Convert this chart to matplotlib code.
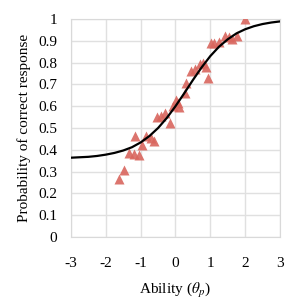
import numpy as np
import matplotlib
matplotlib.use("Agg")
import matplotlib.pyplot as plt

plt.rcParams['font.family'] = ['Liberation Serif', 'DejaVu Serif']
plt.rcParams['mathtext.fontset'] = 'stix'
plt.rcParams['axes.unicode_minus'] = False

# item characteristic curve
theta_curve = [-3, -2.75, -2.5, -2.25, -2, -1.75, -1.5, -1.25, -1, -0.75, -0.5, -0.25,
               0, 0.25, 0.5, 0.75, 1, 1.25, 1.5, 1.75, 2, 2.25, 2.5, 2.75, 3]
p_curve = [0.364, 0.366, 0.368, 0.372, 0.378, 0.386, 0.397, 0.412, 0.434, 0.463, 0.500, 0.546,
           0.600, 0.659, 0.720, 0.778, 0.830, 0.873, 0.907, 0.934, 0.953, 0.967, 0.977, 0.984, 0.989]

# observed proportions
theta_obs = [-1.63, -1.49, -1.32, -1.18, -1.05, -1.15, -0.96, -0.86, -0.70, -0.62, -0.54, -0.41,
             -0.29, -0.17, -0.06, 0.02, 0.07, 0.11, 0.26, 0.31, 0.45, 0.55, 0.71, 0.80, 0.88,
             0.93, 1.02, 1.12, 1.24, 1.41, 1.55, 1.62, 1.76, 2.01]
p_obs = [0.265, 0.307, 0.387, 0.381, 0.376, 0.465, 0.422, 0.465, 0.453, 0.44, 0.552, 0.555,
         0.567, 0.522, 0.601, 0.628, 0.616, 0.598, 0.662, 0.705, 0.763, 0.77, 0.794, 0.80, 0.781,
         0.728, 0.888, 0.891, 0.896, 0.922, 0.916, 0.91, 0.922, 0.999]

fig = plt.figure(figsize=(3.02, 3.02), dpi=100)
ax = fig.add_axes([0.235, 0.215, 0.692, 0.722])

ax.plot(theta_obs, p_obs, '^', color='#d9665e', ms=7, mec='none', alpha=0.9, zorder=3)
ax.plot(theta_curve, p_curve, color='black', lw=1.6, zorder=4)

ax.set_xlim(-3, 3)
ax.set_ylim(0, 1)
ax.set_xticks(np.arange(-3, 4, 1))
ax.set_yticks(np.arange(0, 1.01, 0.1))
ax.set_yticklabels(['0', '0.1', '0.2', '0.3', '0.4', '0.5', '0.6', '0.7', '0.8', '0.9', '1'])
ax.grid(True, color='#e0e0e0', lw=1)
ax.set_axisbelow(True)
for s in ax.spines.values():
    s.set_color('#d9d9d9')
ax.tick_params(length=0, labelsize=11)
ax.tick_params(axis='x', pad=14)
ax.tick_params(axis='y', pad=10)

ax.set_xlabel(r'Ability ($\theta_p$)', fontsize=11, labelpad=8)
ax.set_ylabel('Probability of correct response', fontsize=11, labelpad=5)

plt.savefig('out.png', dpi=100)
